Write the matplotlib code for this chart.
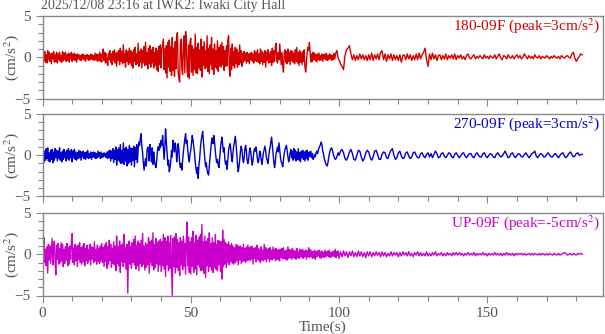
import numpy as np
import matplotlib
matplotlib.use('Agg')
from matplotlib import pyplot as plt

plt.rcParams['font.family'] = ['Liberation Serif', 'DejaVu Serif']
plt.rcParams['mathtext.fontset'] = 'stix'

title = '2025/12/08 23:16 at IWK2: Iwaki City Hall'
labels = ['180-09F (peak=3cm/s$^{2}$)', '270-09F (peak=3cm/s$^{2}$)', 'UP-09F (peak=-5cm/s$^{2}$)']
colors = ['#d40000', '#0000cc', '#cc00cc']
dt_early = 0.25  # 0-100 s values (one row = 10 s)
dt_late = 0.5    # 100-182 s values
t_split = 100.0

# ---- 180-09F (NS) ----
ns_early = [
    0.0, 0.5, -0.4, 0.7, -0.6, 0.3, -0.7, 0.8, -0.3, 0.6, -0.5, 0.4, -0.8, 0.5, -0.2, 0.7,
    -0.6, 0.3, -0.5, 0.6, -0.7, 0.4, -0.3, 0.6, -0.5, 0.2, -0.6, 0.7, -0.4, 0.5, -0.3, 0.6,
    -0.5, 0.3, -0.4, 0.5, -0.6, 0.4, -0.2, 0.6,
    -0.5, 0.4, -0.3, 0.5, -0.4, 0.3, -0.6, 0.4, -0.2, 0.3, -0.3, 0.2, -0.4, 0.3, -0.2, 0.4,
    -0.3, 0.2, -0.5, 0.3, -0.2, 0.3, -0.4, 0.2, -0.3, 0.4, -0.2, 0.3, -0.3, 0.2, -0.4, 0.5,
    -0.3, 0.4, -0.5, 0.3, -0.4, 0.6, -0.5, 0.4,
    -0.6, 0.3, 1.0, -0.4, 0.6, -0.7, 0.4, -0.5, -1.0, 0.5, -0.3, 0.8, -0.6, 0.4, -0.9, 0.7,
    -0.4, 0.9, -0.7, 0.5, -1.1, 0.6, -0.4, 0.8, -0.9, 1.1, -0.5, 0.7, -0.8, 1.5, -0.6, 0.4,
    -1.2, 0.9, -0.5, 0.7, -0.9, 1.1, -0.7, 0.8,
    -1.0, 0.6, -1.3, 0.9, -0.5, 1.2, -0.9, 0.4, -0.8, 1.7, -1.1, 0.7, -0.6, 1.0, -1.3, 0.8,
    -0.7, 1.3, -1.0, 1.8, -0.9, 0.6, -1.4, 1.1, -0.8, 1.4, -1.2, 0.9, -0.7, 1.2, -1.3, 0.6,
    -1.0, 1.1, -1.5, 0.8, -1.7, 1.3, -0.9, 1.5,
    -1.3, 0.9, 1.6, 2.2, -1.5, 1.0, -1.9, 1.4, -2.5, 1.8, -1.2, 2.1, -1.7, 1.3, -2.2, 2.4,
    -1.6, 1.1, -2.3, 1.9, -1.4, 2.5, 3.0, -1.8, -2.6, -3.0, 1.6, 2.2, -1.5, -2.1, 1.7, 2.6,
    -1.9, 3.1, 2.0, -1.6, -2.4, 1.5, -2.6, 1.9,
    2.3, -1.8, 1.4, -2.2, 1.0, -1.5, 2.8, -1.9, 1.2, -2.0, 1.7, -1.3, 0.9, -1.6, 2.2, -2.4,
    1.3, -1.0, 1.9, -1.4, 0.8, -1.2, 2.6, -1.7, 1.1, -2.0, 1.5, -0.9, 2.4, -1.5, 1.0, -2.1,
    1.6, -1.2, 0.8, -1.4, 2.0, -1.7, 1.2, -1.1,
    1.5, -1.2, 1.8, -0.9, 1.3, -1.6, 0.8, -1.1, 1.4, -1.0, 2.1, 2.6, -1.4, -2.3, 1.1, -1.5,
    1.6, -1.0, 0.7, -1.3, 1.2, -0.8, 1.0, -1.2, 0.6, -0.9, 1.5, -0.7, 0.8, -1.1, 0.5, -0.6,
    0.7, -0.4, 0.5, -0.7, 0.6, -0.5, 0.4, -0.8,
    0.5, -0.3, 0.6, -0.5, 0.4, -0.7, 0.8, -0.4, 0.6, -0.5, 0.9, -0.6, 0.4, -0.8, 1.0, -0.5,
    0.7, -0.9, 0.5, -0.6, 0.8, -1.2, 0.6, -0.4, 0.9, -0.7, 0.5, -0.6, 0.7, -1.0, 1.1, -0.6,
    0.8, -0.5, 1.3, 1.7, -0.4, -0.7, 0.6, -0.3,
    1.6, 0.4, -0.9, 0.6, -1.0, -1.8, 0.5, 0.9, -0.6, 0.7, -0.8, 1.0, -0.5, 0.6, -0.9, 0.8,
    -0.4, 0.7, -0.6, 0.5, -0.8, 0.9, -0.5, 1.2, -0.7, 0.6, -1.0, 0.8, -0.6, 0.5, -0.9, 0.7,
    -0.5, 0.9, -1.2, -1.8, -0.6, 0.6, 1.2, 0.8,
    1.8, 0.5, -0.6, 0.4, -0.5, 0.6, -0.3, 0.5, -0.4, 0.3, -0.6, 0.4, -0.3, 0.5, -0.4, 0.2,
    -0.3, 0.4, -0.5, 0.3, -0.2, 0.4, -0.3, 0.5, -0.4, 0.2, -0.3, 0.4, -0.2, 0.3, -0.4, 0.2,
    -0.3, 0.5, -0.2, 0.3, 0.6, 0.8, 0.3, -0.2,
]
ns_late = [
    -0.3, -0.8, -1.1, -1.5, 0.2, 0.9, 1.1, 1.4, 0.4, -0.3, 0.3, -0.4, 0.2, -0.3, 0.4, -0.2, 0.3, -0.3, 0.2, -0.4,
    0.3, -0.3, 0.5, -0.4, 0.3, -0.2, 0.4, -0.3, 0.6, 0.8, -0.3, 0.4, -0.5, 0.3, -0.2, 0.4, -0.4, 0.3, -0.3, 0.2,
    -0.4, 0.3, -0.6, 0.2, 0.3, -0.3, 0.4, -0.2, 0.3, -0.4, 0.2, -0.3, 0.4, -0.3, 0.5, -0.2, 0.3, 0.6, 1.1, -0.3,
    -1.1, 0.4, -0.3, 0.5, -0.2, 0.3, -0.4, 0.2, 0.3, -0.3, 0.2, -0.2, 0.4, -0.3, 0.2, -0.1, 0.3, -0.2, 0.4, -0.3,
    0.2, -0.1, 0.3, -0.2, 0.1, -0.3, 0.2, 0.4, -0.1, -0.2, 0.1, 0.3, -0.2, 0.1, -0.1, 0.2, 0.0, -0.2, 0.3, -0.1,
    0.1, -0.2, 0.2, 0.0, -0.1, 0.3, -0.2, 0.1, 0.4, -0.1, -0.3, 0.2, 0.1, -0.2, 0.3, 0.0, -0.1, 0.2, -0.2, 0.1,
    0.3, -0.1, 0.2, -0.2, 0.0, 0.4, 0.1, -0.2, 0.2, -0.1, 0.1, -0.2, 0.3, 0.0, -0.1, 0.2, -0.2, 0.1, 0.0, -0.1,
    0.2, 0.0, -0.2, 0.1, -0.1, 0.2, 0.0, -0.1, 0.1, -0.2, 0.2, 0.0, -0.1, 0.1, 0.2, 0.0, -0.1, 0.4, 0.6, -0.1,
    -0.5, -0.2, 0.1, 0.4, 0.3,
]

# ---- 270-09F (EW) ----
ew_early = [
    0.0, 0.7, -0.9, 0.5, -0.6, 0.8, -0.4, 0.9, -0.7, 0.3, -0.8, 0.6, -0.5, 0.7, -0.9, 0.4,
    -0.6, 0.8, -0.3, 0.6, -0.7, 0.5, -0.4, 0.9, -0.6, 0.3, -0.8, 0.5, -0.5, 0.7, -0.3, 0.4,
    -0.7, 0.6, -0.4, 0.8, -0.6, 0.5, -0.3, 0.7,
    -0.8, 0.5, -0.3, 0.7, -0.5, 0.4, -0.6, 0.3, -0.4, 0.6, -0.3, 0.5, -0.6, 0.4, -0.2, 0.5,
    -0.4, 0.3, -0.5, 0.4, -0.3, 0.6, -0.4, 0.2, -0.3, 0.4, -0.5, 0.3, -0.2, 0.4, -0.3, 0.3,
    -0.4, 0.2, -0.3, 0.5, -0.2, 0.3, -0.4, 0.4,
    -0.3, 0.2, -0.2, 0.3, -0.1, 0.2, -0.3, 0.4, -0.4, 0.5, -0.3, 0.6, -0.7, 0.5, -0.4, 0.8,
    -0.9, 0.6, -0.5, 1.0, -1.2, 0.7, -0.6, 0.9, -0.8, 1.3, -1.0, 0.6, -0.9, 1.5, -1.1, 0.8,
    -0.7, 1.0, -1.3, 0.7, -1.0, 1.2, -0.8, 0.9,
    -1.2, 0.8, -0.6, 1.1, -1.4, 0.9, -0.5, 1.3, -0.9, 0.7, 1.6, 1.2, 2.0, 2.6, 1.1, 0.3,
    -0.9, -1.8, -1.0, -0.4, -1.3, 0.6, 1.0, 0.4, -0.7, 1.3, 0.5, -0.8, 0.9, -1.1, 0.4, -0.6,
    -1.2, -1.5, -0.7, 0.5, 1.0, 0.6, 1.4, 0.9,
    1.8, 1.2, 2.4, 1.0, -0.5, 0.8, 3.2, 1.6, 0.4, -1.2, -0.6, -2.0, -1.5, -0.8, 0.6, -0.2,
    1.8, 1.0, 0.4, 1.5, 0.9, -0.8, 0.2, 1.4, 0.6, -0.9, -1.5, -1.0, -1.8, -0.6, 0.4, 1.2,
    2.0, 2.6, 1.4, 1.8, 0.5, -0.3, -0.8, 0.2,
    0.6, 1.5, 2.4, 1.8, 1.0, 0.3, -0.8, -1.6, -2.2, -1.5, -2.8, -1.2, -0.4, 0.9, 1.8, 2.3,
    2.9, 1.7, 0.6, -0.5, -1.4, -0.9, -1.8, -2.2, -2.4, -1.3, -0.2, 0.8, 1.7, 2.1, 1.4, 2.4,
    1.6, 0.6, -0.3, -0.9, -0.5, -1.2, -1.5, -0.4,
    0.8, 1.6, 2.2, 1.3, 0.4, 0.9, -0.6, -1.1, -0.7, -1.7, -0.5, 0.6, 1.1, 1.4, 0.7, -0.3,
    -0.8, 0.4, 1.2, 1.6, 2.3, 1.5, 0.2, -1.1, -2.0, -1.4, -0.6, 0.5, 1.1, 0.7, -0.4, -0.9,
    -0.3, 0.8, 1.2, 0.5, -0.6, -1.0, -0.5, 0.4,
    0.9, 0.3, -0.6, -1.2, -0.5, 0.4, 0.8, 0.5, 1.0, 0.2, -0.5, -0.9, -0.4, 0.5, 0.3, -0.6,
    -1.1, -0.4, 0.3, 0.7, 1.1, 0.6, -0.3, -0.6, -1.0, -0.2, 0.5, 1.0, 1.6, 2.2, 1.2, 0.1,
    -0.8, -1.5, -0.9, 0.2, 0.6, 1.0, 0.4, 1.5,
    0.6, -0.3, -0.8, -1.0, -1.4, -0.6, 0.2, 0.7, 0.9, 1.2, 0.5, -0.2, -0.8, -0.4, 0.3, 0.7,
    -0.3, 0.5, -0.6, 0.8, -0.4, 0.6, -0.7, 0.4, -0.5, 0.8, -0.6, 0.3, -0.8, 0.5, -0.3, 0.6,
    -0.5, 0.4, -0.7, 0.5, -0.4, 0.6, -0.6, 0.3,
    0.4, -0.2, 0.5, -0.3, 0.2, -0.5, -0.3, 0.1, -0.2, 0.3, 0.5, 0.2, 0.6, 0.9, 1.1, 1.3,
    1.6, 1.2, 0.5, 0.2, -0.4, -0.7, -1.0, -1.2, -1.3, -0.9, -0.3, 0.2, 0.6, 0.8, 0.9, 0.6,
    0.2, -0.1, -0.4, -0.5, -0.4, -0.2, 0.1, 0.3,
]
ew_late = [
    0.0, 0.5, 0.7, 0.3, -0.4, -0.6, -0.2, 0.4, 0.7, 0.2, -0.5, -0.6, 0.0, 0.6, 0.5, -0.2, -0.7, -0.4, 0.3, 0.6,
    0.4, -0.3, -0.6, -0.2, 0.5, 0.6, 0.1, -0.5, -0.5, 0.1, 0.4, 0.3, -0.3, -0.4, 0.2, 0.6, 0.8, 0.0, -0.5, -0.3,
    0.3, 0.5, -0.1, -0.4, -0.3, 0.3, 0.4, -0.1, -0.4, -0.2, 0.3, 0.4, 0.0, -0.3, -0.3, 0.2, 0.3, -0.1, -0.3, 0.1,
    0.3, -0.2, 0.2, -0.3, 0.1, 0.5, 0.2, -0.3, -0.2, 0.2, 0.3, -0.1, -0.3, 0.0, 0.3, 0.2, -0.2, -0.3, 0.1, 0.3,
    0.0, -0.3, -0.1, 0.2, 0.3, -0.1, -0.3, 0.0, 0.2, 0.2, -0.2, -0.3, 0.1, 0.3, 0.0, -0.2, -0.2, 0.2, 0.3, -0.1,
    -0.3, 0.0, 0.2, 0.1, -0.2, -0.3, 0.1, 0.3, 0.0, -0.2, -0.1, 0.2, 0.5, 0.1, -0.3, -0.2, 0.2, 0.3, -0.1, -0.3,
    0.0, 0.2, 0.1, -0.2, -0.2, 0.1, 0.3, 0.0, -0.3, -0.1, 0.2, 0.3, 0.5, -0.1, -0.3, 0.0, 0.2, 0.1, -0.2, -0.2,
    0.1, 0.3, 0.0, -0.2, -0.2, 0.1, 0.2, -0.1, -0.3, 0.0, 0.2, 0.3, -0.1, -0.3, -0.1, 0.2, 0.4, 0.1, -0.2, -0.1,
    0.2, 0.3, 0.0, 0.1, 0.1,
]

# ---- UP-09F (UD) ----
ud_early = [
    0.0, 1.1, 2.0, -1.0, 0.6, -1.4, 0.9, -2.3, 1.2, -0.7, 1.0, -1.1, 0.5, 1.9, -1.3, 0.8,
    1.6, -0.9, -2.5, 1.1, -0.6, 1.3, -1.2, 0.7, -1.0, 1.4, -0.8, 1.2, -1.5, 0.6, -1.1, 0.9,
    -0.7, 1.3, -1.4, 0.8, -1.2, 1.0, -0.6, 1.5,
    2.5, -1.0, 0.7, -1.3, 1.2, -0.8, 0.9, -1.5, 1.1, -0.6, 1.4, -1.0, 0.8, -1.2, 1.0, -0.9,
    1.3, -1.4, 0.7, -0.8, 1.1, -1.1, 0.6, -0.7, 1.2, -1.3, 0.9, -0.6, 0.8, -1.0, 1.5, -0.8,
    0.6, -1.2, 1.1, -0.9, 0.7, -1.1, 1.0, -0.8,
    1.3, -1.0, 0.8, -1.5, 1.1, -0.9, 1.4, -1.7, 0.9, -1.2, 1.7, -0.8, 1.2, -1.6, 0.7, -1.1,
    1.5, -1.3, 1.0, -2.0, 2.2, -1.1, 0.9, -1.4, 1.6, -2.2, 1.1, -0.9, 1.3, -1.5, 2.4, -1.0,
    0.8, -1.8, 1.2, -4.7, 0.6, 1.6, -1.2, 0.9,
    -1.7, 1.4, -1.0, 1.8, -1.3, 2.2, -1.8, 1.1, -1.4, 1.6, -2.0, 1.3, -1.1, 1.7, -1.5, 2.5,
    -1.2, 1.0, -1.9, 1.4, -1.6, 1.2, -1.3, 2.0, -2.3, 1.5, -1.0, 1.7, -1.4, 2.6, -1.9, 1.2,
    -1.6, 1.9, -1.1, 1.4, -2.1, 1.6, -1.3, 1.8,
    -2.1, 1.5, -1.4, 2.4, -1.8, 2.0, -2.7, 1.6, -1.3, 2.2, -2.0, 1.4, -1.7, 2.3, -1.2, -5.0,
    1.9, -1.5, 2.1, -2.3, 2.5, -1.6, 1.8, -2.0, 1.4, -2.6, 2.0, -1.3, 1.6, -1.9, 2.2, -1.5,
    1.3, -2.4, 1.7, 3.9, -1.4, 2.1, -2.2, 1.5,
    -2.4, 2.0, -1.5, 2.8, -2.2, 1.4, -1.8, 2.3, -2.5, 1.7, -1.3, 2.1, -1.6, 2.4, -2.0, 3.6,
    -1.9, 1.5, -2.3, 2.2, -2.8, 1.6, -1.4, 1.9, -2.1, 2.6, -1.5, 1.3, -1.9, 2.0, -2.2, 1.4,
    -1.6, 2.4, -1.8, 1.2, -2.0, 1.7, -1.3, 1.6,
    -2.1, 1.5, -3.0, 2.9, -1.5, 1.8, -1.2, 1.4, -1.6, 1.2, -1.0, 1.5, -1.3, 1.1, -0.9, 1.3,
    -1.1, 1.0, -1.2, 0.8, -1.0, 1.2, -0.8, 1.1, -1.3, 0.9, -0.7, 1.0, -1.1, 0.8, -0.9, 1.2,
    -0.8, 0.7, -1.0, 0.9, -0.8, 1.1, -0.7, 0.8,
    -0.8, 1.0, -0.6, 0.9, -1.2, 0.7, -0.5, 0.8, -0.9, 1.1, -0.6, 0.7, -0.8, 0.6, -1.0, 0.9,
    -0.7, 0.5, -0.8, 1.2, -0.6, 0.8, -0.9, 0.6, -0.5, 0.7, -0.9, 0.8, -0.6, 0.5, -0.7, 0.9,
    -0.5, 0.6, -0.8, 0.7, -0.6, 0.5, -0.7, 0.6,
    -0.8, 0.6, -0.4, 0.7, -0.6, 0.8, -0.5, 0.4, -0.6, 0.5, -0.7, 0.9, -0.5, 0.6, -0.4, 0.5,
    -0.6, 0.7, -0.4, 0.5, -0.5, 0.4, -0.6, 0.7, -0.4, 0.3, -0.5, 0.6, -0.3, 0.5, -0.4, 0.6,
    -0.5, 0.4, -0.3, 0.5, -0.6, 0.4, -0.3, 0.8,
    -0.4, 0.6, -0.3, 0.4, -0.5, 0.3, -0.4, 0.5, -0.6, 0.3, -0.3, 0.4, -0.2, 0.5, -0.4, 0.3,
    -0.5, 0.4, -0.3, 0.2, -0.4, 0.5, -0.3, 0.3, -0.2, 0.4, -0.3, 0.5, -0.4, 0.2, -0.3, 0.3,
    -0.2, 0.4, -0.3, 0.6, -0.4, 0.3, -0.2, 0.4,
]
ud_late = [
    -0.5, 0.3, -0.3, 0.4, -0.2, 0.3, -0.4, 0.3, -0.2, 0.4, -0.3, 0.2, -0.3, 0.4, -0.2, 0.3, -0.3, 0.2, -0.4, 0.3,
    -0.2, 0.3, -0.3, 0.2, -0.2, 0.3, -0.1, 0.2, -0.3, 0.3, -0.2, 0.2, -0.3, 0.1, -0.2, 0.3, -0.2, 0.2, -0.1, 0.2,
    -0.3, 0.2, -0.2, 0.3, -0.1, 0.2, -0.2, 0.3, -0.2, 0.1, -0.3, 0.2, -0.1, 0.3, -0.2, 0.2, -0.2, 0.1, -0.2, 0.3,
    -0.2, 0.1, -0.2, 0.2, -0.1, 0.3, -0.2, 0.1, -0.1, 0.2, -0.2, 0.1, -0.2, 0.2, -0.1, 0.1, -0.2, 0.2, -0.1, 0.2,
    -0.1, 0.2, -0.1, 0.1, -0.2, 0.1, -0.1, 0.2, -0.1, 0.1, -0.1, 0.2, -0.2, 0.1, -0.1, 0.1, -0.1, 0.2, -0.1, 0.1,
    -0.2, 0.1, -0.1, 0.1, -0.1, 0.2, -0.1, 0.1, -0.1, 0.1, -0.2, 0.1, -0.1, 0.2, -0.1, 0.1, -0.1, 0.1, -0.2, 0.1,
    -0.1, 0.1, 0.0, 0.1, -0.1, 0.1, -0.1, 0.0, 0.1, -0.1, 0.1, -0.1, 0.1, 0.0, -0.1, 0.1, -0.1, 0.1, 0.0, -0.1,
    0.1, -0.1, 0.1, 0.0, -0.1, 0.1, 0.0, -0.1, 0.1, -0.1, 0.0, 0.1, 0.2, 0.1, -0.1, 0.0, 0.1, -0.1, 0.1, 0.0,
    -0.1, 0.1, 0.0, 0.1, 0.0,
]

traces = [(ns_early, ns_late), (ew_early, ew_late), (ud_early, ud_late)]
gray = '#555555'

fig = plt.figure(figsize=(6.05, 3.34), dpi=100)
left, width, height = 42.5/605, 560.5/605, 82.5/334
bottoms = [1 - 98.5/334, 1 - 196.5/334, 1 - 295.5/334]

for i in range(3):
    early, late = traces[i]
    t = np.concatenate([np.arange(len(early)) * dt_early, t_split + np.arange(len(late)) * dt_late])
    y = np.array(early + late)
    ax = fig.add_axes([left, bottoms[i], width, height])
    ax.plot(t, y, color=colors[i], lw=1.0)
    ax.set_xlim(0, 189)
    ax.set_ylim(-5, 5)
    ax.set_yticks([-5, 0, 5])
    ax.set_yticks(np.arange(-5, 6, 1), minor=True)
    ax.set_xticks([0, 50, 100, 150])
    ax.set_xticks(np.arange(0, 190, 10), minor=True)
    ax.tick_params(which='both', direction='out', colors='#888888', labelcolor=gray, labelsize=11)
    ax.tick_params(which='major', length=5, width=0.8)
    ax.tick_params(which='minor', length=3.5, width=0.8)
    for s in ax.spines.values():
        s.set_color('#888888')
        s.set_linewidth(1.0)
    ax.set_ylabel('(cm/s$^{2}$)', color=gray, fontsize=11)
    ax.yaxis.set_label_coords(-0.038, 0.5)
    ax.text(0.995, 0.88, labels[i], transform=ax.transAxes, ha='right', va='center',
            color=colors[i], fontsize=11)
    if i < 2:
        ax.set_xticklabels([])
    else:
        ax.set_xlabel('Time(s)', color=gray, fontsize=11, labelpad=0)

fig.text(41/605, 1 - 6/334, title, ha='left', va='center', color=gray, fontsize=10)

plt.savefig('out.png', dpi=100)
